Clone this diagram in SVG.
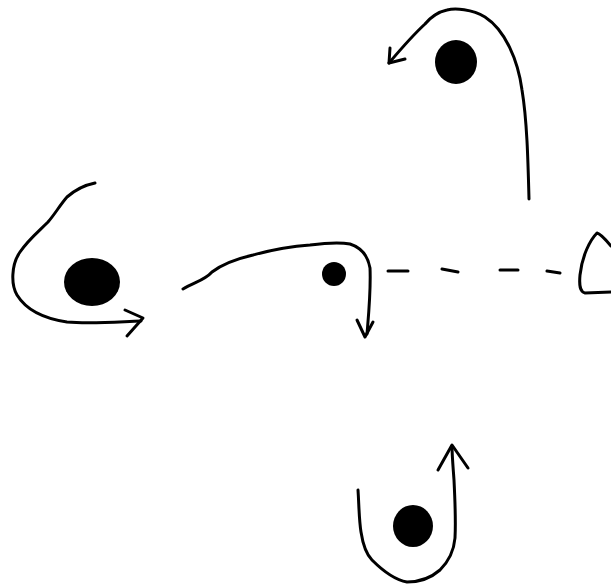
<svg xmlns="http://www.w3.org/2000/svg" width="611" height="586" viewBox="0 0 611 586">
<style>
.s{fill:none;stroke:#000;stroke-width:3;stroke-linecap:round;stroke-linejoin:round}
.d{fill:#000}
</style>
<rect width="611" height="586" fill="#fff"/>
<g id="dot-top"><ellipse class="d" cx="456" cy="62" rx="21" ry="22"/></g>
<g id="dot-left"><ellipse class="d" cx="92" cy="282" rx="28" ry="24"/></g>
<g id="dot-center"><ellipse class="d" cx="334" cy="274" rx="12" ry="12"/></g>
<g id="dot-bottom"><ellipse class="d" cx="413" cy="526" rx="20" ry="21"/></g>
<g id="cone"><path class="s" d="M611,246 C606,240 601,234 597,233 C590,240 582,256 580,275 C579,286 580,292 585,293 L611,292"/></g>
<g id="connectors">
<path class="s" d="M529,199 C528,160 527,120 522,90 C518,60 505,30 485,17 C472,9 455,8 447,10 C438,12 430,18 425,24 C412,36 400,50 389,63"/>
<path class="s" d="M390,48 L389,63 L405,59"/>
<path class="s" d="M95,183 C85,185 75,190 67,197 C60,205 55,214 48,222 C38,232 28,240 20,252 C11,265 11,285 17,295 C25,308 40,318 67,322 C90,324 115,322 141,321"/>
<path class="s" d="M125,310 L143,318 L127,336"/>
<path class="s" d="M183,289 C195,282 205,280 212,272 C225,262 240,258 253,255 C275,249 295,246 310,245 C325,243 340,242 350,244 C362,248 368,256 370,268 C371,290 369,310 367,334"/>
<path class="s" d="M357,320 L365,337 L373,322"/>
<path class="s" d="M388,271 L408,271 M442,269 L458,272 M500,270 L518,270 M547,271 L560,273"/>
<path class="s" d="M358,490 C359,505 359,520 361,532 C363,545 366,554 372,560 C382,570 395,580 407,582 C420,582 432,577 440,570 C450,560 454,550 455,538 C456,520 455,500 454,480 C453,466 452,455 452,446"/>
<path class="s" d="M438,470 L452,445 L468,468"/>
</g>
</svg>
